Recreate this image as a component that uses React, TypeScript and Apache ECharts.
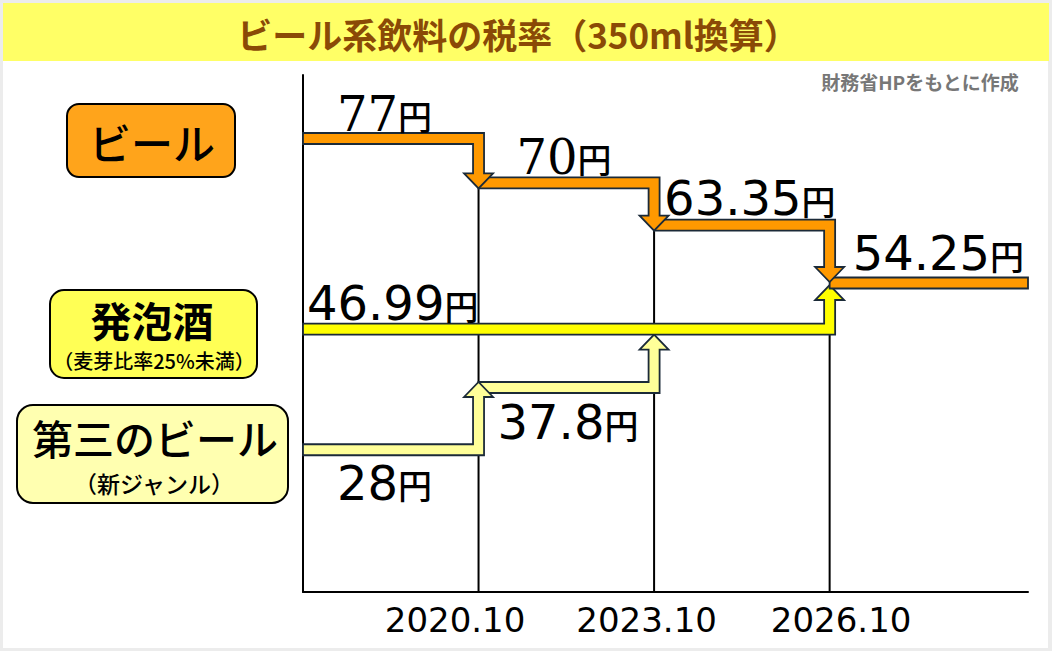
import React, { useEffect, useRef } from 'react';
import * as echarts from 'echarts';

// ---- data ----
const periods = ['', '2020.10', '2023.10', '2026.10']; // tick labels for x = 0..3
const periodX = [0, 1, 2, 3];
const beerTax = [77, 70, 63.35, 54.25];
const happoshuTax = [46.99, 46.99, 46.99, 54.25];
const thirdTax = [28, 37.8, 46.99, 54.25];
const categoryNames = ['ビール', '発泡酒', '第三のビール'];
const happoshuNote = '（麦芽比率25%未満）';
const thirdNote = '（新ジャンル）';
const titleText = 'ビール系飲料の税率（350ml換算）';
const sourceText = '財務省HPをもとに作成';
const unitText = '円';

// ---- layout / style (not data) ----
const X_MAX = 4.13;
const Y_MIN = 5.6;
const Y_MAX = 87;
const H = 11; // band thickness
const S = 5.5; // shaft half width
const HW = 14.5; // arrow head half width
const HL = 15; // arrow head length
const FILLS = ['#FF9900', '#FFFF00', '#FFFF99'];
const OUTLINE = '#1b2a38';
const LABEL_LAYOUT = [
  [
    { dx: 34, side: 'above', gap: 5, serif: true },
    { dx: 38, side: 'above', gap: 6, serif: true },
    { dx: 10, side: 'above', gap: 7, serif: false },
    { dx: 23, side: 'above', gap: 10, serif: false },
  ],
  [{ dx: 4, side: 'above', gap: 6, serif: false }],
  [
    { dx: 34, side: 'below', gap: 7, serif: false },
    { dx: 19, side: 'below', gap: 9, serif: false },
  ],
];

const seriesList = [beerTax, happoshuTax, thirdTax];

type Seg = { k: number; i: number; j: number | null; v: number; nv?: number; tip?: string; n: number };

function buildSegments(k: number): Seg[] {
  const vals = seriesList[k];
  const segs: Seg[] = [];
  let i = 0;
  let n = 0;
  while (i < vals.length) {
    let j = i + 1;
    while (j < vals.length && vals[j] === vals[i]) j++;
    if (j >= vals.length) {
      segs.push({ k, i, j: null, v: vals[i], n: n++ });
      break;
    }
    const nv = vals[j];
    const owner = seriesList.findIndex((o, m) => m < k && o[j] === nv);
    const converge = seriesList.some((o, m) => m !== k && o[j] === nv && o[j - 1] !== nv);
    const tip = converge ? 'center' : owner >= 0 ? 'near' : 'far';
    segs.push({ k, i, j, v: vals[i], nv, tip, n: n++ });
    if (owner >= 0) break;
    i = j;
  }
  return segs;
}

const segsBySeries = seriesList.map((_, k) => buildSegments(k));

type Item = { type: string; seg?: Seg; idx?: number };
const items: Item[] = [];
[1, 2, 3].forEach((idx) => items.push({ type: 'grid', idx }));
// draw order: third, happoshu, beer; within a series later segments first
[2, 1, 0].forEach((k) => {
  const segs = segsBySeries[k].slice().reverse();
  segs.forEach((seg) => items.push({ type: 'shape', seg }));
});
[0, 1, 2].forEach((k) => segsBySeries[k].forEach((seg) => items.push({ type: 'label', seg })));

const itemValues = items.map((it) => {
  if (it.type === 'grid') return [periodX[it.idx!], Y_MIN];
  return [periodX[it.seg!.i], it.seg!.v];
});

function renderItem(params: any, api: any) {
  const it = items[params.dataIndex];
  const P = (x: number, v: number) => api.coord([x, v]);
  if (it.type === 'grid') {
    const x = periodX[it.idx!];
    const top = P(x, beerTax[it.idx!]);
    const bot = P(x, Y_MIN);
    return {
      type: 'line',
      shape: { x1: top[0], y1: top[1] + H / 2, x2: bot[0], y2: bot[1] },
      style: { stroke: '#000', lineWidth: 2 },
    };
  }
  const seg = it.seg!;
  const start = P(periodX[seg.i], seg.v);
  const xs = start[0];
  const yc = start[1];
  const yT = yc - H / 2;
  const yB = yc + H / 2;
  if (it.type === 'label') {
    const lay = LABEL_LAYOUT[seg.k][seg.n];
    const glyphCenter = lay.side === 'above' ? yT - lay.gap - 17.5 : yB + lay.gap + 17.5;
    return {
      type: 'text',
      x: xs + lay.dx,
      y: glyphCenter + 3,
      style: {
        text: `{n|${seg.v}}{u|${unitText}}`,
        align: 'left',
        verticalAlign: 'middle',
        rich: {
          n: {
            fontFamily: lay.serif ? 'DejaVu Serif' : 'DejaVu Sans',
            fontSize: 48,
            fill: '#000',
          },
          u: {
            fontFamily: 'Noto Sans CJK JP',
            fontSize: 34,
            fontWeight: 500,
            fill: '#000',
            padding: [4, 0, 0, 0],
          },
        },
      },
      z2: 50,
    };
  }
  let pts: number[][];
  if (seg.j === null) {
    const xe = P(X_MAX, seg.v)[0];
    pts = [
      [xs, yT],
      [xe, yT],
      [xe, yB],
      [xs, yB],
    ];
  } else {
    const X = P(periodX[seg.j], seg.v)[0];
    const ycN = P(periodX[seg.j], seg.nv!)[1];
    const down = ycN > yc;
    let tip: number;
    if (seg.tip === 'center') tip = down ? ycN - 1 : ycN + 2;
    else if (seg.tip === 'near') tip = down ? ycN - H / 2 : ycN + H / 2;
    else tip = down ? ycN + H / 2 : ycN - H / 2;
    if (down) {
      const base = tip - HL;
      pts = [
        [xs, yT],
        [X + S, yT],
        [X + S, base],
        [X + HW, base],
        [X, tip],
        [X - HW, base],
        [X - S, base],
        [X - S, yB],
        [xs, yB],
      ];
    } else {
      const base = tip + HL;
      pts = [
        [xs, yB],
        [X + S, yB],
        [X + S, base],
        [X + HW, base],
        [X, tip],
        [X - HW, base],
        [X - S, base],
        [X - S, yT],
        [xs, yT],
      ];
    }
  }
  return {
    type: 'polygon',
    shape: { points: pts },
    style: { fill: FILLS[seg.k], stroke: OUTLINE, lineWidth: 1.8, lineJoin: 'miter' },
  };
}

export default function App() {
  const ref = useRef<HTMLDivElement>(null);
  useEffect(() => {
    if (!ref.current) return;
    const chart = echarts.init(ref.current, undefined, { renderer: 'svg' });
    const cjk = 'Noto Sans CJK JP';
    chart.setOption({
      animation: false,
      backgroundColor: '#ececec',
      textStyle: { fontFamily: cjk },
      grid: { left: 303, top: 75, width: 725, height: 517 },
      xAxis: {
        type: 'value',
        min: 0,
        max: X_MAX,
        interval: 1,
        axisLine: { show: true, onZero: false, lineStyle: { color: '#000', width: 2 } },
        axisTick: { show: false },
        splitLine: { show: false },
        axisLabel: {
          margin: 11,
          showMaxLabel: false,
          formatter: (val: number) => {
            const idx = Math.round(val);
            if (Math.abs(val - idx) > 1e-6 || !periods[idx]) return '';
            return `{t${idx}|${periods[idx]}}`;
          },
          rich: {
            t1: { fontFamily: 'DejaVu Sans', fontSize: 34, color: '#000', padding: [0, 47, 0, 0] },
            t2: { fontFamily: 'DejaVu Sans', fontSize: 34, color: '#000', padding: [0, 15, 0, 0] },
            t3: { fontFamily: 'DejaVu Sans', fontSize: 34, color: '#000', padding: [0, 0, 0, 23] },
          },
        },
      },
      yAxis: {
        type: 'value',
        min: Y_MIN,
        max: Y_MAX,
        axisLine: { show: true, onZero: false, lineStyle: { color: '#000', width: 2 } },
        axisTick: { show: false },
        axisLabel: { show: false },
        splitLine: { show: false },
      },
      graphic: [
        { type: 'rect', z: -100, shape: { x: 3, y: 3, width: 1045, height: 645 }, style: { fill: '#ffffff' } },
        { type: 'rect', z: -99, shape: { x: 3, y: 3, width: 1046, height: 58 }, style: { fill: '#FFFF66' } },
        {
          type: 'text',
          x: 518,
          y: 33,
          style: { text: titleText, fill: '#8a4a06', fontFamily: cjk, fontSize: 35, fontWeight: 'bold', lineHeight: 36, align: 'center', verticalAlign: 'middle' },
        },
        {
          type: 'text',
          x: 920,
          y: 81,
          style: { text: sourceText, fill: '#777777', fontFamily: cjk, fontSize: 19, fontWeight: 'bold', lineHeight: 20, align: 'center', verticalAlign: 'middle' },
        },
        { type: 'rect', shape: { x: 67, y: 104, width: 168, height: 73, r: 12 }, style: { fill: '#FFA41B', stroke: '#000', lineWidth: 2 } },
        {
          type: 'text',
          x: 152,
          y: 141,
          style: { text: categoryNames[0], fill: '#000', fontFamily: cjk, fontSize: 42, fontWeight: 500, lineHeight: 42, align: 'center', verticalAlign: 'middle' },
        },
        { type: 'rect', shape: { x: 50, y: 290, width: 207, height: 88, r: 14 }, style: { fill: '#FFFF55', stroke: '#000', lineWidth: 2 } },
        {
          type: 'text',
          x: 152,
          y: 319,
          style: { text: categoryNames[1], fill: '#000', fontFamily: cjk, fontSize: 41, fontWeight: 'bold', lineHeight: 41, align: 'center', verticalAlign: 'middle' },
        },
        {
          type: 'text',
          x: 154,
          y: 360,
          style: { text: happoshuNote, fill: '#000', fontFamily: cjk, fontSize: 20, fontWeight: 500, lineHeight: 20, align: 'center', verticalAlign: 'middle' },
        },
        { type: 'rect', shape: { x: 17, y: 405, width: 271, height: 98, r: 16 }, style: { fill: '#FFFFB0', stroke: '#000', lineWidth: 2 } },
        {
          type: 'text',
          x: 155,
          y: 437,
          style: { text: categoryNames[2], fill: '#000', fontFamily: cjk, fontSize: 41, fontWeight: 500, lineHeight: 41, align: 'center', verticalAlign: 'middle' },
        },
        {
          type: 'text',
          x: 154,
          y: 483,
          style: { text: thirdNote, fill: '#000', fontFamily: cjk, fontSize: 23, fontWeight: 500, lineHeight: 23, align: 'center', verticalAlign: 'middle' },
        },
      ],
      series: [
        {
          type: 'custom',
          coordinateSystem: 'cartesian2d',
          clip: false,
          renderItem,
          data: itemValues,
          z: 5,
        },
      ],
    });
    return () => chart.dispose();
  }, []);
  return <div ref={ref} style={{ position: 'absolute', left: 0, top: 0, width: 1052, height: 651 }} />;
}
